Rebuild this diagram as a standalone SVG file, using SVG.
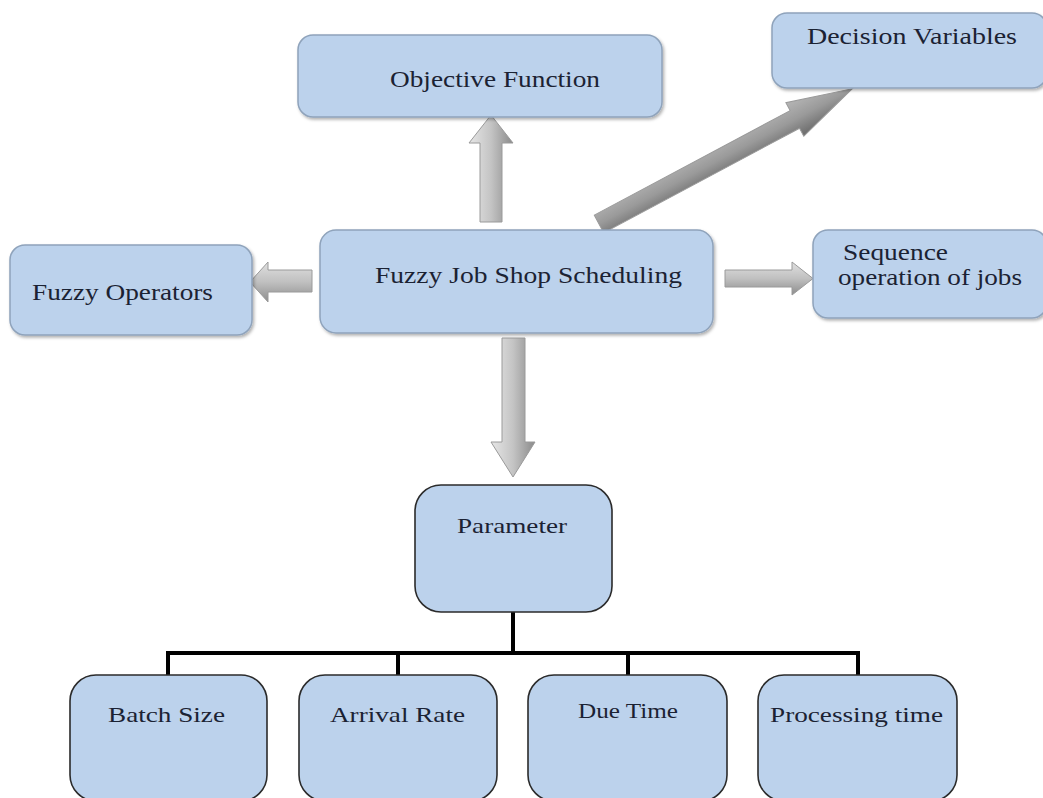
<svg xmlns="http://www.w3.org/2000/svg" width="1043" height="798" viewBox="0 0 1043 798">
<style>
.top{fill:#bcd2ec;stroke:#8fa3bb;stroke-width:1.5;filter:url(#sh)}
.bot{fill:#bcd2ec;stroke:#2b2b2b;stroke-width:1.6}
.t{font-family:"Liberation Serif","Times New Roman",serif;fill:#1b2233;font-size:23px}
.tb{font-family:"Liberation Serif","Times New Roman",serif;fill:#1b2233;font-size:22px}
.arr{stroke:#9a9a9a;stroke-width:1}
.tree{fill:none;stroke:#000;stroke-width:4}
</style>
<defs>
<filter id="sh" x="-10%" y="-10%" width="120%" height="130%">
<feDropShadow dx="1.5" dy="2" stdDeviation="1.8" flood-color="#000" flood-opacity="0.3"/>
</filter>
<linearGradient id="gv" x1="0" y1="0" x2="1" y2="0">
<stop offset="0" stop-color="#e6e6e6"/><stop offset="0.5" stop-color="#c4c4c4"/><stop offset="1" stop-color="#8a8a8a"/>
</linearGradient>
<linearGradient id="gh" x1="0" y1="0" x2="0" y2="1">
<stop offset="0" stop-color="#e0e0e0"/><stop offset="0.5" stop-color="#c0c0c0"/><stop offset="1" stop-color="#8c8c8c"/>
</linearGradient>
<linearGradient id="gd" x1="0" y1="0" x2="0" y2="1">
<stop offset="0" stop-color="#b5b5b5"/><stop offset="0.5" stop-color="#9a9a9a"/><stop offset="1" stop-color="#6a6a6a"/>
</linearGradient>
</defs>
<rect width="1043" height="798" fill="#fff"/>

<g id="connectors">
<polygon class="arr" fill="url(#gv)" points="480,222 502,222 502,143 513,143 491,115 469,143 480,143"/>
<g transform="translate(599,224) rotate(-28.1)">
<polygon class="arr" fill="url(#gd)" points="0,-10 222,-10 222,-19 287,0 222,19 222,10 0,10"/>
</g>
<polygon class="arr" fill="url(#gh)" points="312,270 268,270 268,262 250,282 268,302 268,292 312,292"/>
<polygon class="arr" fill="url(#gh)" points="725,270 792,270 792,262 813,278.5 792,295 792,287 725,287"/>
<polygon class="arr" fill="url(#gv)" points="502,338 525,338 525,442 535,442 513,477 491,442 502,442"/>
<path class="tree" d="M513,612 V653 M168,653 H858 M168,651 V675 M398,651 V675 M628,651 V675 M858,651 V675"/>
</g>

<g id="objective">
<rect class="top" x="298" y="35" width="364" height="82" rx="15"/>
<text class="t" x="390" y="87" textLength="210" lengthAdjust="spacingAndGlyphs">Objective Function</text>
</g>
<g id="decision">
<rect class="top" x="772" y="13" width="275" height="75" rx="15"/>
<text class="t" x="807" y="44" font-size="24" textLength="210" lengthAdjust="spacingAndGlyphs">Decision Variables</text>
</g>
<g id="fuzzyjss">
<rect class="top" x="320" y="230" width="393" height="103" rx="16"/>
<text class="t" x="375" y="283" textLength="307" lengthAdjust="spacingAndGlyphs">Fuzzy Job Shop Scheduling</text>
</g>
<g id="fuzzyops">
<rect class="top" x="10" y="245" width="242" height="90" rx="15"/>
<text class="t" x="32" y="300" textLength="181" lengthAdjust="spacingAndGlyphs">Fuzzy Operators</text>
</g>
<g id="sequence">
<rect class="top" x="813" y="230" width="234" height="88" rx="15"/>
<text class="t" x="843" y="260" textLength="105" lengthAdjust="spacingAndGlyphs">Sequence</text>
<text class="t" x="838" y="285" textLength="184" lengthAdjust="spacingAndGlyphs">operation of jobs</text>
</g>
<g id="parameter">
<rect class="bot" x="415" y="485" width="197" height="127" rx="26"/>
<text class="tb" x="457" y="533" textLength="110" lengthAdjust="spacingAndGlyphs">Parameter</text>
</g>
<g id="batch">
<rect class="bot" x="70" y="675" width="197" height="126" rx="26"/>
<text class="tb" x="108" y="722" textLength="117" lengthAdjust="spacingAndGlyphs">Batch Size</text>
</g>
<g id="arrival">
<rect class="bot" x="299" y="675" width="198" height="126" rx="26"/>
<text class="tb" x="330" y="722" textLength="135" lengthAdjust="spacingAndGlyphs">Arrival Rate</text>
</g>
<g id="duetime">
<rect class="bot" x="528" y="675" width="199" height="126" rx="26"/>
<text class="tb" x="578" y="718" textLength="100" lengthAdjust="spacingAndGlyphs">Due Time</text>
</g>
<g id="processing">
<rect class="bot" x="758" y="675" width="199" height="126" rx="26"/>
<text class="tb" x="770" y="722" textLength="173" lengthAdjust="spacingAndGlyphs">Processing time</text>
</g>
</svg>
